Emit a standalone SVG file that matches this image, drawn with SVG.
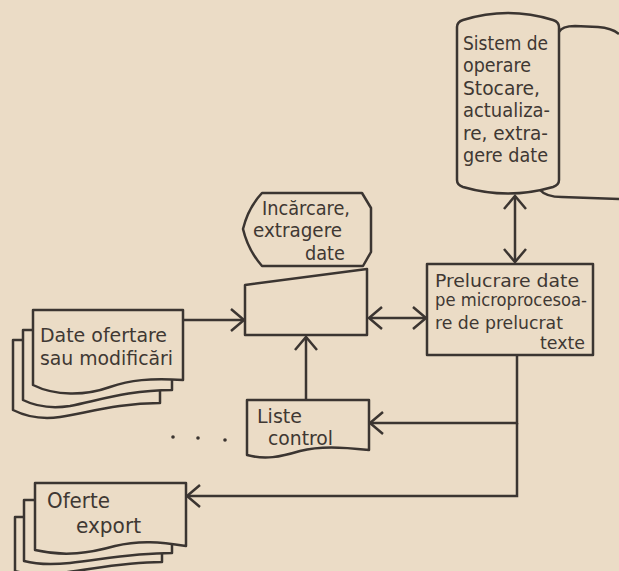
<svg xmlns="http://www.w3.org/2000/svg" width="619" height="571" viewBox="0 0 619 571">
<style>
.s{fill:#ebdcc6;stroke:#3b3531;stroke-width:2.5;stroke-linejoin:round}
.l{fill:none;stroke:#3b3531;stroke-width:2.5}
text{font-family:"DejaVu Sans Condensed","Liberation Sans Narrow","Liberation Sans",sans-serif;fill:#3f3833}
.st{font-size:20px}.pt{font-size:18px}.it{font-size:19px}.dt{font-size:20px}.lt{font-size:20px}.ot{font-size:21px}
</style>
<defs>
<marker id="ah" viewBox="-15 -13 17 26" refX="0" refY="0" markerWidth="17" markerHeight="26" markerUnits="userSpaceOnUse" orient="auto-start-reverse">
<path d="M-13,-11 L0,0 L-13,11" fill="none" stroke="#3b3531" stroke-width="2.5"/>
</marker>
</defs>
<rect width="619" height="571" fill="#ebdcc6"/>

<g id="connectors">
<line class="l" x1="515" y1="196" x2="515" y2="262" marker-start="url(#ah)" marker-end="url(#ah)"/>
<line class="l" x1="183" y1="320" x2="244" y2="320" marker-end="url(#ah)"/>
<line class="l" x1="369" y1="318" x2="426" y2="318" marker-start="url(#ah)" marker-end="url(#ah)"/>
<line class="l" x1="306" y1="400" x2="306" y2="337" marker-end="url(#ah)"/>
<polyline class="l" points="517,355 517,423 370,423" marker-end="url(#ah)"/>
<polyline class="l" points="517,423 517,496 187,496" marker-end="url(#ah)"/>
</g>

<g id="storage">
<path class="l" d="M559,32 Q562,26 575,26 L598,27 Q612,28 619,34"/>
<path class="l" d="M540,190 Q546,197 562,197 L619,199"/>
<path class="s" d="M457,27 Q457,22 463,20 Q508,6 553,20 Q559,22 559,27 L559,180 Q559,185 553,187 Q508,200 463,187 Q457,185 457,180 Z"/>
<text class="st" x="463" y="50" textLength="85" lengthAdjust="spacingAndGlyphs">Sistem de</text>
<text class="st" x="463" y="72" textLength="68" lengthAdjust="spacingAndGlyphs">operare</text>
<text class="st" x="463" y="95" textLength="77" lengthAdjust="spacingAndGlyphs">Stocare,</text>
<text class="st" x="463" y="117" textLength="87" lengthAdjust="spacingAndGlyphs">actualiza-</text>
<text class="st" x="463" y="140" textLength="85" lengthAdjust="spacingAndGlyphs">re, extra-</text>
<text class="st" x="463" y="162" textLength="85" lengthAdjust="spacingAndGlyphs">gere date</text>
</g>

<g id="incarcare">
<path class="s" d="M262,193 L362,193 L371,208 L371,252 L363,266 L262,266 Q248,250 243,229 Q248,208 262,193 Z"/>
<text class="it" x="262" y="215" textLength="88" lengthAdjust="spacingAndGlyphs">Incărcare,</text>
<text class="it" x="253" y="237" textLength="89" lengthAdjust="spacingAndGlyphs">extragere</text>
<text class="it" x="305" y="260" textLength="40" lengthAdjust="spacingAndGlyphs">date</text>
</g>

<g id="manual">
<path class="s" d="M245,285 L367,269 L367,335 L245,335 Z"/>
</g>

<g id="prelucrare">
<rect class="s" x="427" y="264" width="166" height="91"/>
<text class="pt" x="435" y="287" textLength="144" lengthAdjust="spacingAndGlyphs">Prelucrare date</text>
<text class="pt" x="435" y="306" textLength="152" lengthAdjust="spacingAndGlyphs">pe microprocesoa-</text>
<text class="pt" x="435" y="329" textLength="128" lengthAdjust="spacingAndGlyphs">re de prelucrat</text>
<text class="pt" x="540" y="349" textLength="45" lengthAdjust="spacingAndGlyphs">texte</text>
</g>

<g id="date-ofertare">
<path class="s" d="M13,340 L160,340 L160,403 C120,403 90,412 60,417 C40,420 25,416 13,410 Z"/>
<path class="s" d="M23,330 L172,330 L172,390 C130,390 100,400 70,406 C50,409 35,406 23,400 Z"/>
<path class="s" d="M33,310 L183,310 L183,380 C150,378 130,380 110,387 C85,396 55,396 33,385 Z"/>
<text class="dt" x="40" y="342" textLength="127" lengthAdjust="spacingAndGlyphs">Date ofertare</text>
<text class="dt" x="40" y="365" textLength="133" lengthAdjust="spacingAndGlyphs">sau modificări</text>
</g>

<g id="liste-control">
<path class="s" d="M247,400 L369,400 L369,450 C340,447 320,446 300,451 C280,457 265,460 247,455 Z"/>
<text class="lt" x="257" y="423" textLength="45" lengthAdjust="spacingAndGlyphs">Liste</text>
<text class="lt" x="268" y="445" textLength="65" lengthAdjust="spacingAndGlyphs">control</text>
</g>

<g id="oferte-export">
<path class="s" d="M15,517 L162,517 L162,562 C120,562 90,570 60,573 C40,575 25,574 15,571 Z"/>
<path class="s" d="M24,500 L172,500 L172,553 C130,553 100,560 70,563 C50,565 35,564 24,561 Z"/>
<path class="s" d="M35,483 L186,483 L186,546 C160,542 140,540 115,546 C90,553 65,557 35,550 Z"/>
<text class="ot" x="47" y="508" textLength="63" lengthAdjust="spacingAndGlyphs">Oferte</text>
<text class="ot" x="76" y="533" textLength="65" lengthAdjust="spacingAndGlyphs">export</text>
</g>

<g id="dots" fill="#3b3531">
<circle cx="173" cy="437" r="1.8"/>
<circle cx="198" cy="438" r="1.8"/>
<circle cx="225" cy="440" r="1.8"/>
</g>
</svg>
